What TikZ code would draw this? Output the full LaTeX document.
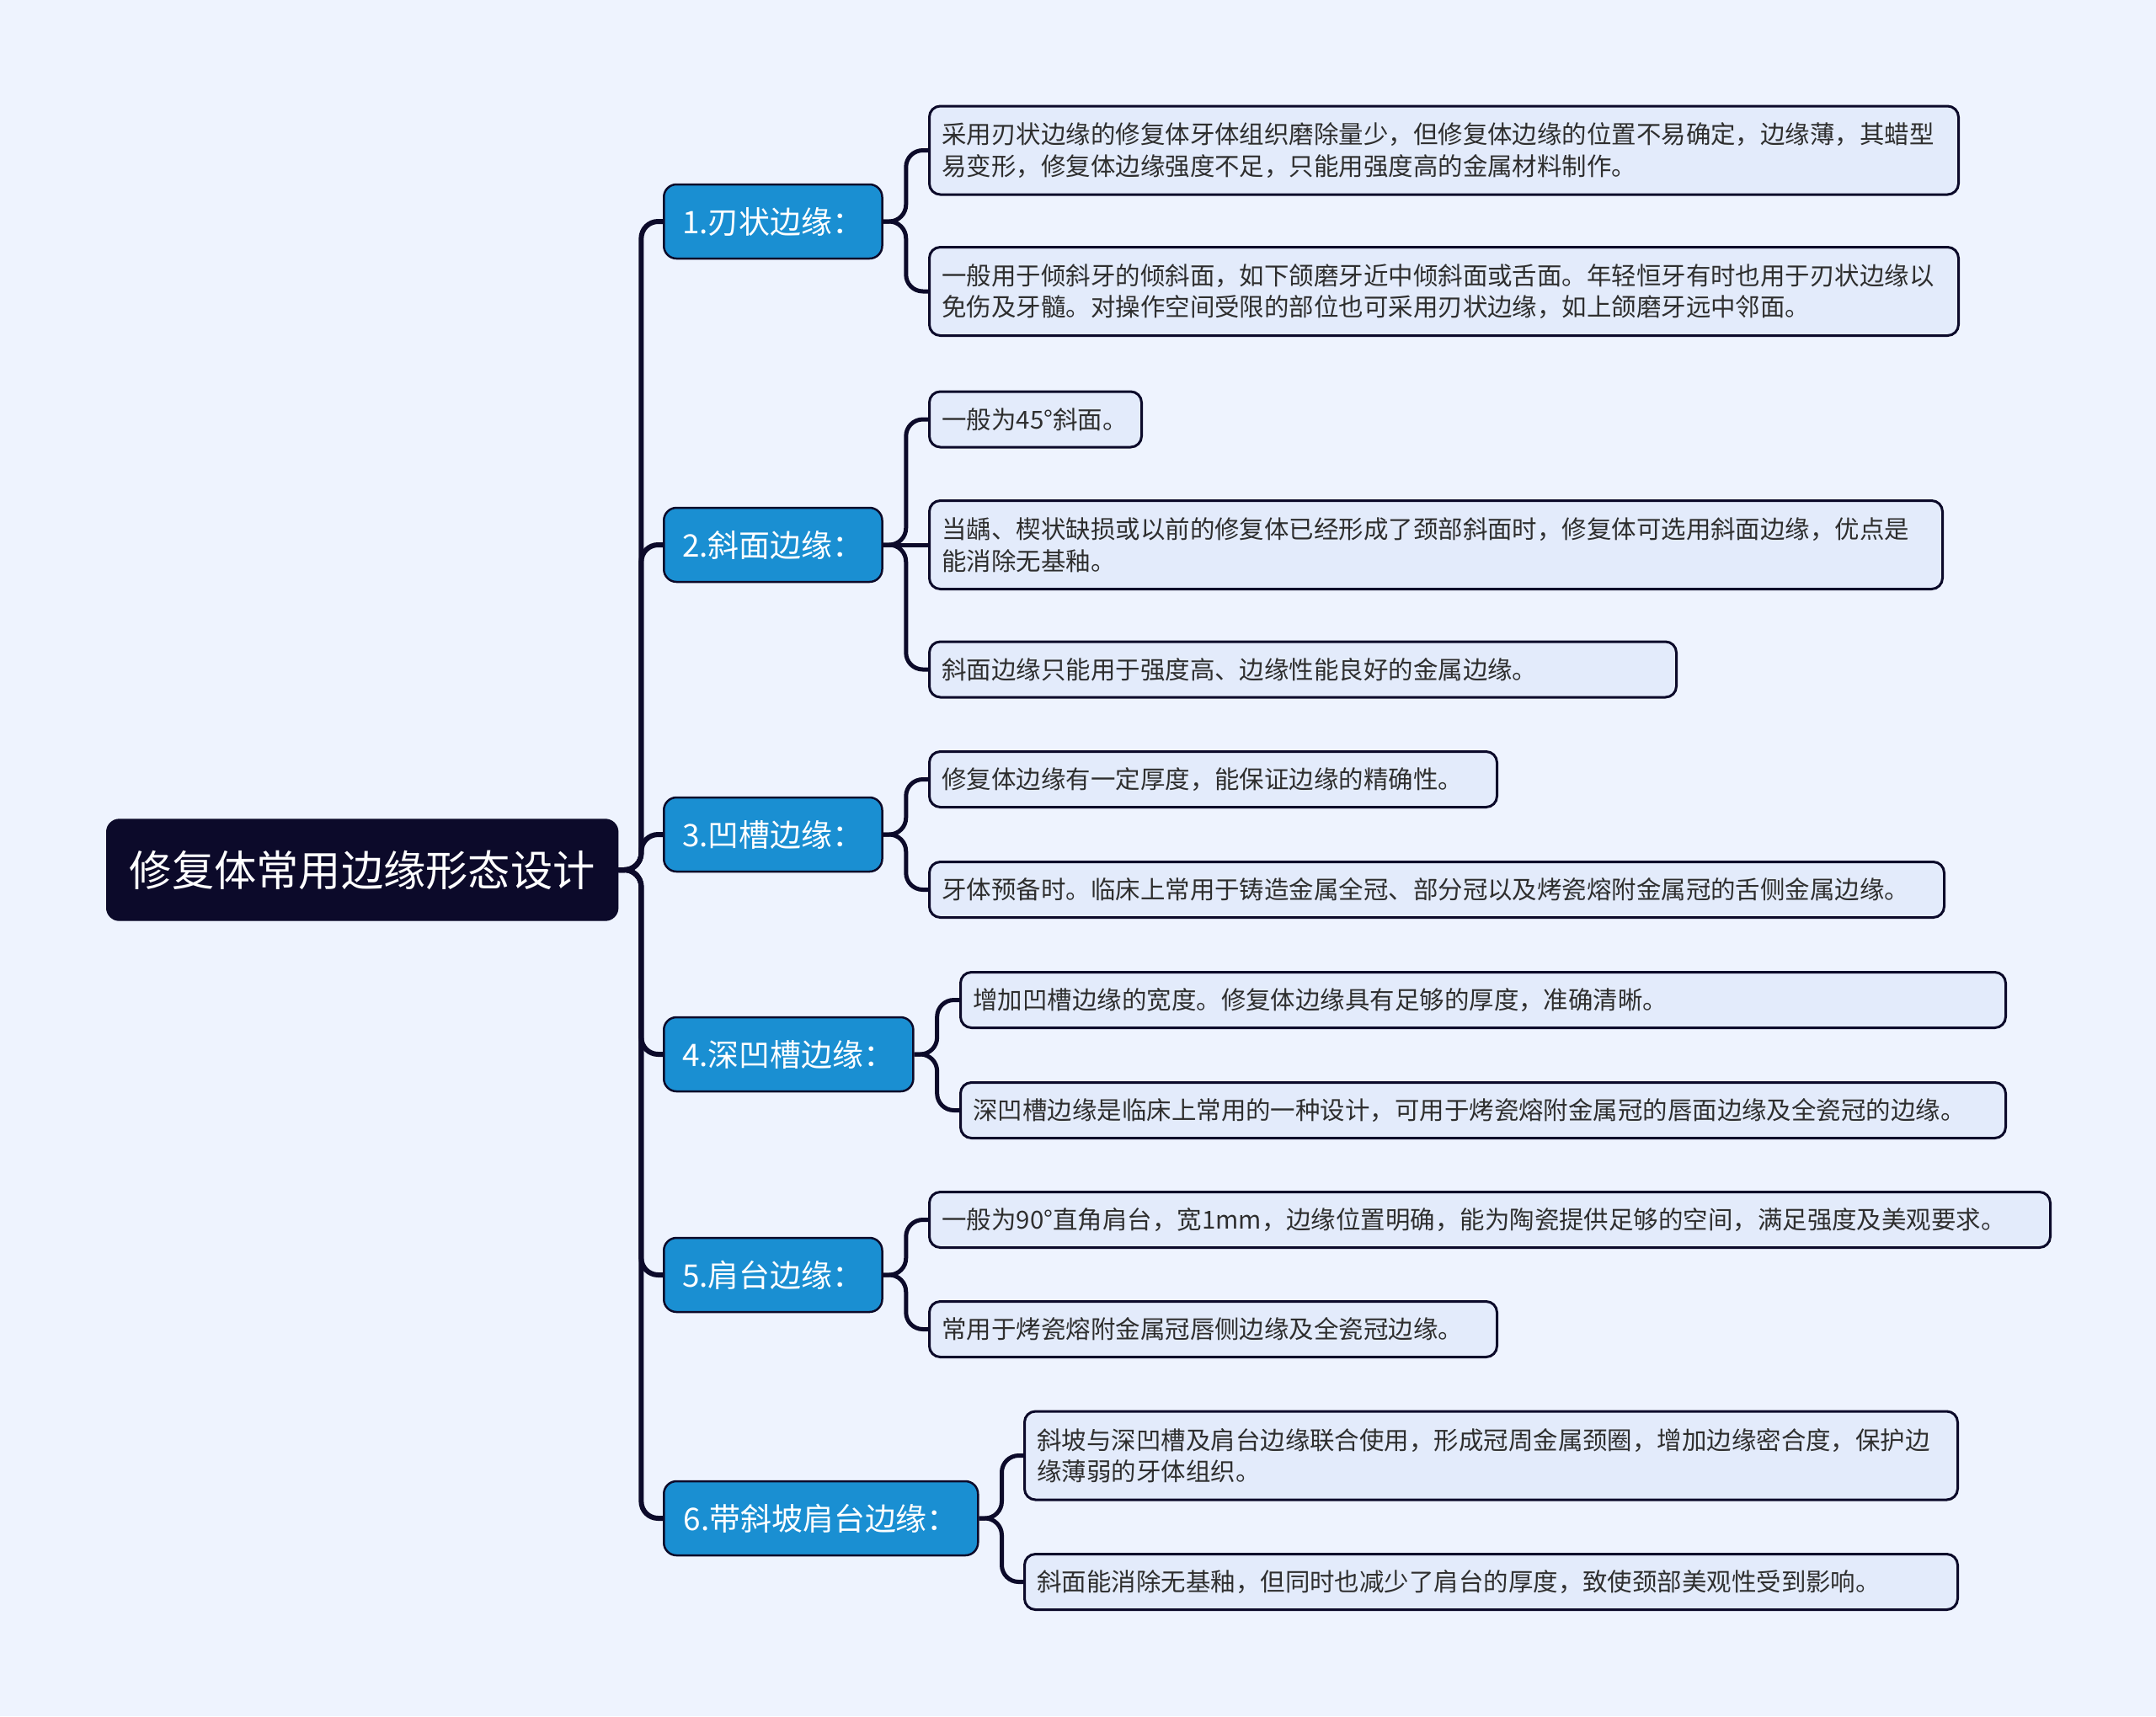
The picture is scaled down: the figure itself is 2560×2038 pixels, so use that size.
\documentclass[tikz,border=0pt]{standalone}
\usepackage{fontspec}
\newfontfamily\cjk{Noto Sans CJK SC}
\definecolor{bgcol}{HTML}{EEF3FE}
\definecolor{navy}{HTML}{0C0A2A}
\definecolor{branchblue}{HTML}{1A8FD2}
\definecolor{leaffill}{HTML}{E3EBFB}
\definecolor{leaftext}{HTML}{2E2E2E}
\tikzset{
  rootbox/.style={draw=navy, fill=navy, rounded corners=1.5mm, text=white, font=\cjk\fontsize{14.3}{17}\selectfont, inner xsep=2.7mm, minimum width=60.7mm, minimum height=12mm, anchor=west},
  branchbox/.style={draw=navy, line width=0.25mm, fill=branchblue, rounded corners=1.5mm, text=white, font=\cjk\fontsize{10.5}{12}\selectfont, inner xsep=2.2mm, minimum height=8.8mm, anchor=west},
  leafbox/.style={draw=navy, line width=0.3mm, fill=leaffill, rounded corners=1.3mm, text=leaftext, font=\cjk\fontsize{8.38}{10.7}\selectfont, inner xsep=1.5mm, align=left, anchor=west},
  onerow/.style={minimum height=6.6mm},
  tworow/.style={minimum height=10.5mm},
  trunk/.style={draw=navy, line width=0.6mm, rounded corners=2mm},
  twig/.style={draw=navy, line width=0.5mm, rounded corners=2mm}
}
\begin{document}
\begin{tikzpicture}[x=0.1mm, y=-0.1mm]
\fill[bgcol] (0,0) rectangle (2560,2038);
\useasboundingbox (0,0) rectangle (2560,2038);
\node[rootbox] (root) at (126,1033) {修复体常用边缘形态设计};
\node[branchbox, minimum width=25.9mm] (b1) at (787,263) {1.刃状边缘：};
\node[branchbox, minimum width=25.9mm] (b2) at (787,647) {2.斜面边缘：};
\node[branchbox, minimum width=25.9mm] (b3) at (787,991) {3.凹槽边缘：};
\node[branchbox, minimum width=29.6mm] (b4) at (787,1252) {4.深凹槽边缘：};
\node[branchbox, minimum width=25.9mm] (b5) at (787,1514) {5.肩台边缘：};
\node[branchbox, minimum width=37.3mm] (b6) at (787,1803) {6.带斜坡肩台边缘：};
\node[leafbox, tworow, text width=119.2mm] (l1a) at (1102,178.5) {采用刃状边缘的修复体牙体组织磨除量少，但修复体边缘的位置不易确定，边缘薄，其蜡型\\易变形，修复体边缘强度不足，只能用强度高的金属材料制作。};
\node[leafbox, tworow, text width=119.2mm] (l1b) at (1102,346) {一般用于倾斜牙的倾斜面，如下颌磨牙近中倾斜面或舌面。年轻恒牙有时也用于刃状边缘以\\免伤及牙髓。对操作空间受限的部位也可采用刃状边缘，如上颌磨牙远中邻面。};
\node[leafbox, onerow, text width=22.2mm] (l2a) at (1102,498) {一般为45°斜面。};
\node[leafbox, tworow, text width=117.3mm] (l2b) at (1102,647) {当龋、楔状缺损或以前的修复体已经形成了颈部斜面时，修复体可选用斜面边缘，优点是\\能消除无基釉。};
\node[leafbox, onerow, text width=85.7mm] (l2c) at (1102,795) {斜面边缘只能用于强度高、边缘性能良好的金属边缘。};
\node[leafbox, onerow, text width=64.4mm] (l3a) at (1102,925.5) {修复体边缘有一定厚度，能保证边缘的精确性。};
\node[leafbox, onerow, text width=117.5mm] (l3b) at (1102,1056.5) {牙体预备时。临床上常用于铸造金属全冠、部分冠以及烤瓷熔附金属冠的舌侧金属边缘。};
\node[leafbox, onerow, text width=121.1mm] (l4a) at (1139,1187.5) {增加凹槽边缘的宽度。修复体边缘具有足够的厚度，准确清晰。};
\node[leafbox, onerow, text width=121.1mm] (l4b) at (1139,1318.5) {深凹槽边缘是临床上常用的一种设计，可用于烤瓷熔附金属冠的唇面边缘及全瓷冠的边缘。};
\node[leafbox, onerow, text width=130.1mm] (l5a) at (1102,1448.5) {一般为90°直角肩台，宽1mm，边缘位置明确，能为陶瓷提供足够的空间，满足强度及美观要求。};
\node[leafbox, onerow, text width=64.4mm] (l5b) at (1102,1578.5) {常用于烤瓷熔附金属冠唇侧边缘及全瓷冠边缘。};
\node[leafbox, tworow, text width=107.8mm] (l6a) at (1215,1728.5) {斜坡与深凹槽及肩台边缘联合使用，形成冠周金属颈圈，增加边缘密合度，保护边\\缘薄弱的牙体组织。};
\node[leafbox, onerow, text width=107.8mm] (l6b) at (1215,1878.5) {斜面能消除无基釉，但同时也减少了肩台的厚度，致使颈部美观性受到影响。};
\foreach \b in {b1,b2,b3,b4,b5,b6}
  \draw[trunk] (root.east) -- ++(27,0) |- (\b.west);
\foreach \b/\l in {b1/l1a, b1/l1b, b2/l2a, b2/l2c, b3/l3a, b3/l3b, b4/l4a, b4/l4b, b5/l5a, b5/l5b, b6/l6a, b6/l6b}
  \draw[twig] (\b.east) -- ++(27,0) |- (\l.west);
\draw[twig] (b2.east) -- (l2b.west);
\end{tikzpicture}
\end{document}
